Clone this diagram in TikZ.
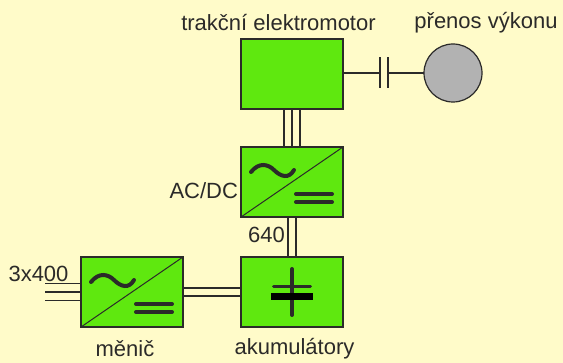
\documentclass[tikz,border=0pt]{standalone}
\usepackage{fontspec}
\setmainfont{Liberation Sans}
\usepackage{xcolor}
\usetikzlibrary{positioning, calc}

\definecolor{pozadi}{HTML}{FFFBC9}
\definecolor{zelena}{HTML}{5FE80F}
\definecolor{seda}{HTML}{B2B2B2}
\definecolor{cara}{HTML}{2B2A29}

\begin{document}
\begin{tikzpicture}[
        x=1pt, y=-1pt,
        node distance=38pt and 58pt,
        box/.style={draw=cara, rectangle, line width=1.4pt, minimum width=102pt, minimum height=70pt, inner sep=0pt, outer sep=0pt, fill=zelena},
        wheel/.style={draw=cara, circle, line width=1.2pt, minimum size=58pt, inner sep=0pt, outer sep=0pt, fill=seda},
        lbl/.style={inner sep=0pt, outer sep=0pt, text=cara, font=\fontsize{22}{24}\selectfont},
        vedeni/.style={draw=cara, line width=1.2pt},
        symbol/.style={draw=cara, line width=4pt, line cap=round}
    ]
    \fill[pozadi] (0,0) rectangle (563,363);
    \useasboundingbox (0,0) rectangle (563,363);

    % bloky
    \node[box] (motor) at (292,74) {};
    \node[box] (acdc) [below=38pt of motor] {};
    \node[box] (aku) [below=40pt of acdc] {};
    \node[box] (menic) [left=58pt of aku] {};
    \node[wheel] (vykon) at (453,73) {};

    % popisky
    \node[lbl] (tm) at (278.5,23) {trakční elektromotor};
    \node[lbl] (pv) at (486,23) {přenos výkonu};
    \node[lbl] (ac) [left=3pt of acdc, yshift=-9pt] {AC/DC};
    \node[lbl] (u1) at (266.5,235) {640};
    \node[lbl] (u2) at (38.5,274) {3x400};
    \node[lbl] (mn) at (125,349) {měnič};
    \node[lbl] (ak) at (294.5,349) {akumulátory};

    % vedeni
    \foreach \dx in {-8,0,8}
        \draw[vedeni] ([xshift=\dx pt]acdc.north) -- ([xshift=\dx pt]acdc.north |- motor.south);
    \foreach \dx in {-4,4}
        \draw[vedeni] ([xshift=\dx pt]aku.north) -- ([xshift=\dx pt]aku.north |- acdc.south);
    \foreach \dy in {-4,4}
        \draw[vedeni] ([yshift=\dy pt]aku.west) -- ([yshift=\dy pt]aku.west -| menic.east);
    \foreach \dy in {-8.5,0,8.5} {
        \coordinate (vstup) at ($(menic.west)+(-36,\dy)$);
        \draw[vedeni] (vstup) -- (vstup -| menic.west);
    }

    % spojka
    \coordinate (sp1) at (380,73);
    \coordinate (sp2) at (388,73);
    \draw[vedeni] (motor.east |- sp1) -- (sp1);
    \draw[vedeni] (sp2) -- (vykon.west);
    \draw[vedeni] ($(sp1)+(0,-15.5)$) -- ($(sp1)+(0,15.5)$);
    \draw[vedeni] ($(sp2)+(0,-15.5)$) -- ($(sp2)+(0,15.5)$);

    % menice
    \foreach \n in {acdc,menic} {
        \draw[draw=cara, line width=1pt] (\n.south west) -- (\n.north east);
        \draw[symbol] ($(\n.center)+(-41,-10)$) .. controls ($(\n.center)+(-33,-20)$) and ($(\n.center)+(-24,-18)$) .. ($(\n.center)+(-18,-12)$)
            .. controls ($(\n.center)+(-11,-5)$) and ($(\n.center)+(-3,-3)$) .. ($(\n.center)+(2,-12)$);
        \draw[symbol] ($(\n.center)+(4,12)$) -- ($(\n.center)+(40,12)$);
        \draw[symbol] ($(\n.center)+(4,20)$) -- ($(\n.center)+(40,20)$);
    }

    % baterie
    \draw[symbol] ($(aku.center)+(0,-23)$) -- ($(aku.center)+(0,23)$);
    \draw[draw=cara, line width=3pt, line cap=round] ($(aku.center)+(-18.5,-5)$) -- ($(aku.center)+(18.5,-5)$);
    \fill[black] ($(aku.center)+(-21,1)$) rectangle ($(aku.center)+(21,8)$);

\end{tikzpicture}
\end{document}
